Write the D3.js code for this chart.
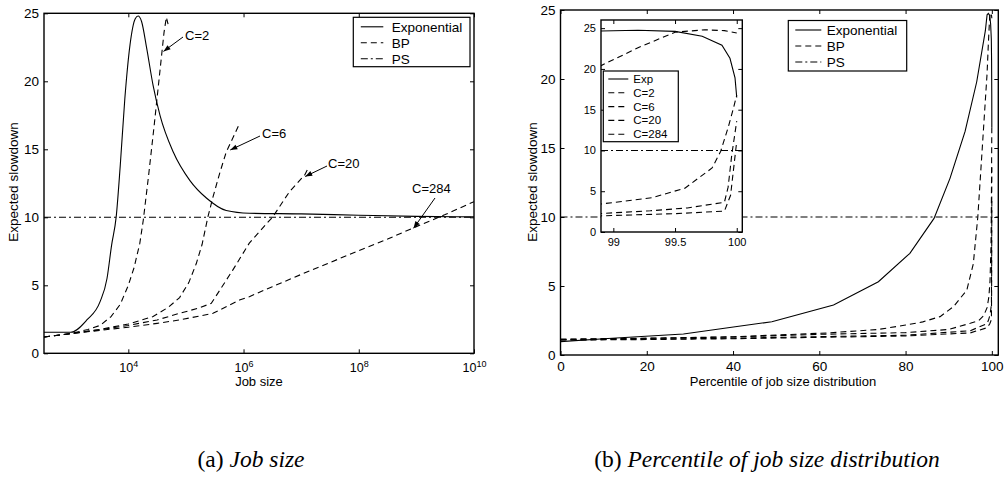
<!DOCTYPE html>
<html><head><meta charset="utf-8">
<script src="https://cdn.jsdelivr.net/npm/d3@7"></script>
<style>
body{margin:0;background:#fff}
text{font-family:"Liberation Sans",Arial,Helvetica,sans-serif;fill:#000}
</style>
</head><body>
<svg id="chart" width="1005" height="479"></svg>
<script>
// ---------------- DATA ----------------
// (a) Expected slowdown vs job size (job size, slowdown)
const jobExp = [[344,1.55],[1000,1.55],[1905,2.45],[3236,3.8],[4266,5.5],[5129,7.96],[6166,10.05],[7244,13.8],[8710,18.75],[10715,22.7],[13183,24.6],[14791,24.8],[16982,24.4],[20893,22.4],[26915,19.7],[35481,17.5],[60256,14.8],[117490,12.7],[229087,11.4],[501187,10.5],[1258925,10.3],[1e7,10.25],[1e8,10.15],[1e9,10.07],[1e10,10.03]];
const jobC2 = [[344,1.2],[1000,1.45],[1995,1.75],[3236,2.05],[5012,2.7],[7244,3.6],[10000,5.0],[12589,6.3],[15849,8.1],[18197,9.8],[22387,13.0],[28184,16.8],[35481,20.8],[41687,23.6],[45709,24.7],[48978,24.2]];
const jobC6 = [[344,1.2],[1000,1.45],[3162,1.75],[10000,2.15],[26915,2.7],[50119,3.4],[77625,4.1],[112202,5.2],[151356,6.6],[190546,8.0],[239883,10.0],[295121,11.5],[389045,13.3],[501187,14.8],[630957,15.7],[831764,16.8]];
const jobC20 = [[344,1.2],[1000,1.45],[3162,1.72],[10000,2.05],[31623,2.45],[77625,2.94],[158489,3.3],[275423,3.67],[645654,6.1],[1258925,8.1],[3235937,10.05],[6309573,11.9],[11481536,13.1],[13182567,13.6]];
const jobC284 = [[344,1.2],[1000,1.45],[3162,1.68],[10000,1.92],[31623,2.2],[77625,2.45],[295121,2.94],[851138,3.92],[1258925,4.16],[3162278,4.9],[1e7,5.8],[26915348,6.55],[1e8,7.55],[316227766,8.4],[851138038,9.19],[3162277660,10.2],[1e10,11.15]];
const psSlowdown = 10;

// (b) Expected slowdown vs percentile of job size distribution
const pctExp = [[0,0.97],[11,1.2],[28.5,1.52],[40.5,2.05],[49,2.41],[63.3,3.62],[73.7,5.31],[81,7.37],[86.6,9.9],[90.3,12.8],[93.8,16.2],[96.5,19.8],[98.5,23.5],[98.9,24.65],[99.2,24.75],[99.5,24.6],[99.72,24.0],[99.88,22.9],[99.945,21.3],[99.986,18.9],[100,16.5]];
const pctC2 = [[0,1.15],[20,1.22],[40,1.32],[62,1.6],[73.7,1.85],[80,2.17],[84,2.4],[88,2.78],[91.1,3.5],[94.2,4.7],[95.7,6.6],[96.75,10],[97.7,14.6],[98.9,20.4],[99.2,22.6],[99.5,24.5],[99.74,24.8],[99.9,24.7],[100,24.4]];
const pctC6 = [[0,1.12],[20,1.2],[40,1.3],[60,1.5],[80,1.62],[90,1.85],[95,2.3],[97,2.5],[98.1,2.85],[98.9,3.43],[99.31,4.2],[99.58,5.37],[99.8,7.85],[99.87,9.9],[99.93,12.8],[99.97,15.0],[100,16.8]];
const pctC20 = [[0,1.1],[20,1.15],[40,1.22],[60,1.33],[80,1.43],[95,1.76],[98.9,2.27],[99.3,2.6],[99.6,2.95],[99.9,3.64],[99.93,5.5],[99.96,9.5],[100,13.6]];
const pctC284 = [[0,1.08],[20,1.12],[40,1.18],[60,1.28],[80,1.38],[95,1.6],[98.9,1.98],[99.5,2.25],[99.9,2.56],[99.95,4.5],[100,11.15]];

// ticks & labels
const jobTicks = [1e4,1e6,1e8,1e10];
const slowTicks = [0,5,10,15,20,25];
const pctTicks = [0,20,40,60,80,100];
const insetXTicks = [99,99.5,100];
const mainLegend = ["Exponential","BP","PS"];
const insetLegend = ["Exp","C=2","C=6","C=20","C=284"];
const annLabels = ["C=2","C=6","C=20","C=284"];
const annTips = [[40738,22.2],[588844,14.95],[11748976,13.0],[891250938,9.19]];

// ---------------- STYLE ----------------
const DASH = "6,4", DASHDOT = "7,3,2,3";
const svg = d3.select("#chart");

// scales
const xL = d3.scaleLog().domain([344,1e10]).range([44,474]);
const yL = d3.scaleLinear().domain([0,25]).range([353.3,13.3]);
const xR = d3.scaleLinear().domain([0,101.5]).range([560.5,998.3]);
const yR = d3.scaleLinear().domain([0,25]).range([355,10]);
const xI = d3.scaleLinear().domain([98.9,100.045]).range([601,742.3]);
const yI = d3.scaleLinear().domain([0,26]).range([232,20]);

function clip(id, xs, ys){
  const [x0,x1]=xs.range(), [y0,y1]=ys.range();
  svg.append("clipPath").attr("id",id).append("rect")
    .attr("x",x0).attr("y",y1).attr("width",x1-x0).attr("height",y0-y1);
}
clip("cl",xL,yL); clip("cr",xR,yR); clip("ci",xI,yI);

function axes(xs, ys, xTicks, yTicks, fs, xFmt, tick, xPad){
  const [x0,x1]=xs.range(), [y0,y1]=ys.range();
  const g = svg.append("g");
  const b = g.append("g").attr("transform",`translate(0,${y0})`)
    .call(d3.axisBottom(xs).tickValues(xTicks).tickSize(-tick).tickPadding(xPad).tickFormat(xFmt));
  g.append("g").attr("transform",`translate(0,${y1})`)
    .call(d3.axisTop(xs).tickValues(xTicks).tickSize(-tick).tickFormat(""));
  g.append("g").attr("transform",`translate(${x0},0)`)
    .call(d3.axisLeft(ys).tickValues(yTicks).tickSize(-tick).tickPadding(5).tickFormat(d3.format("d")));
  g.append("g").attr("transform",`translate(${x1},0)`)
    .call(d3.axisRight(ys).tickValues(yTicks).tickSize(-tick).tickFormat(""));
  g.selectAll(".domain").remove();
  g.selectAll(".tick line").attr("stroke","#000").attr("stroke-width",1);
  g.selectAll("text").attr("font-size",fs).attr("font-family",null).attr("fill","#000");
  g.append("rect").attr("x",x0).attr("y",y1).attr("width",x1-x0).attr("height",y0-y1)
    .attr("fill","none").attr("stroke","#000").attr("stroke-width",1.4);
  return b;
}

function line(data, xs, ys, dash, clipId, curve){
  svg.append("path").datum(data)
    .attr("clip-path",`url(#${clipId})`)
    .attr("fill","none").attr("stroke","#000").attr("stroke-width",1.1)
    .attr("stroke-dasharray",dash)
    .attr("d",d3.line().x(d=>xs(d[0])).y(d=>ys(d[1])).curve(curve||d3.curveLinear));
}

function legend(x,y,w,h,labels,dashes,rowH,first,lx0,lx1,tx,fs){
  const g=svg.append("g");
  g.append("rect").attr("x",x).attr("y",y).attr("width",w).attr("height",h)
    .attr("fill","#fff").attr("stroke","#000").attr("stroke-width",1.2);
  labels.forEach((l,i)=>{
    const cy=y+first+i*rowH;
    g.append("line").attr("x1",x+lx0).attr("x2",x+lx1).attr("y1",cy).attr("y2",cy)
      .attr("stroke","#000").attr("stroke-width",1.1).attr("stroke-dasharray",dashes[i]);
    g.append("text").attr("x",x+tx).attr("y",cy).attr("dy","0.35em").attr("font-size",fs).text(l);
  });
}

// ---------------- PANEL (a) ----------------
line(jobExp,xL,yL,null,"cl",d3.curveMonotoneX);
[jobC2,jobC6,jobC20,jobC284].forEach(s=>line(s,xL,yL,DASH,"cl"));
line(xL.domain().map(x=>[x,psSlowdown]),xL,yL,DASHDOT,"cl");

const bL = axes(xL,yL,jobTicks,slowTicks,13.5,d=>"",4,9);
bL.selectAll(".tick text").each(function(d){
  const t=d3.select(this);
  t.append("tspan").attr("font-size",12.5).text("10");
  t.append("tspan").attr("font-size",9).attr("dy","-0.55em").text(Math.round(Math.log10(d)));
});

// annotations
const annText = [[185,35],[262,133],[328,163],[412,188]];
const annFrom = [[183,37],[260,136],[327,166],[435,198]];
annLabels.forEach((lab,i)=>{
  const tip=[xL(annTips[i][0]),yL(annTips[i][1])];
  const from=annFrom[i];
  svg.append("line").attr("x1",from[0]).attr("y1",from[1]).attr("x2",tip[0]).attr("y2",tip[1])
    .attr("stroke","#000").attr("stroke-width",1);
  const ang=Math.atan2(tip[1]-from[1],tip[0]-from[0]);
  const L=7,W=2.6;
  const bx=tip[0]-L*Math.cos(ang), by=tip[1]-L*Math.sin(ang);
  const p=[[tip[0],tip[1]],[bx+W*Math.sin(ang),by-W*Math.cos(ang)],[bx-W*Math.sin(ang),by+W*Math.cos(ang)]];
  svg.append("path").attr("d","M"+p.map(q=>q.join(",")).join("L")+"Z").attr("fill","#000");
  svg.append("text").attr("x",annText[i][0]).attr("y",annText[i][1]).attr("dy","0.35em")
    .attr("font-size",13).text(lab);
});

legend(353.3,17.3,116.7,49.4,mainLegend,[null,DASH,DASHDOT],16,9.5,7.5,30,38.5,13.5);

svg.append("text").attr("x",259).attr("y",381).attr("dy","0.35em").attr("text-anchor","middle")
  .attr("font-size",13).text("Job size");
svg.append("text").attr("transform","translate(13,182) rotate(-90)").attr("dy","0.35em")
  .attr("text-anchor","middle").attr("font-size",13.5).text("Expected slowdown");

// ---------------- PANEL (b) ----------------
const pctSeries=[pctExp,pctC2,pctC6,pctC20,pctC284];
const pctDash=[null,DASH,DASH,DASH,DASH];
pctSeries.forEach((s,i)=>line(s,xR,yR,pctDash[i],"cr"));
line(xR.domain().map(x=>[x,psSlowdown]),xR,yR,DASHDOT,"cr");
axes(xR,yR,pctTicks,slowTicks,13.5,d3.format("d"),4,6);

legend(788.3,20.5,118.4,50.5,mainLegend,[null,DASH,DASHDOT],16,9.5,7,33,38.5,13.5);

svg.append("text").attr("x",783).attr("y",381).attr("dy","0.35em").attr("text-anchor","middle")
  .attr("font-size",13).text("Percentile of job size distribution");
svg.append("text").attr("transform","translate(532,182) rotate(-90)").attr("dy","0.35em")
  .attr("text-anchor","middle").attr("font-size",13.5).text("Expected slowdown");

// inset
svg.append("rect").attr("x",xI.range()[0]).attr("y",yI.range()[1])
  .attr("width",xI.range()[1]-xI.range()[0]).attr("height",yI.range()[0]-yI.range()[1]).attr("fill","#fff");
pctSeries.forEach((s,i)=>line(s,xI,yI,pctDash[i],"ci"));
line(xI.domain().map(x=>[x,psSlowdown]),xI,yI,DASHDOT,"ci");
axes(xI,yI,insetXTicks,slowTicks,11,d3.format("~g"),4,6);

legend(603.3,71,75,70.7,insetLegend,[null,DASH,DASH,DASH,DASH],13.8,8,5,25,30,11.5);

// captions
function caption(x,pre,it){
  const t=svg.append("text").attr("x",x).attr("y",467).attr("text-anchor","middle")
    .attr("font-size",23.5).style("font-family","'Liberation Serif','Times New Roman',serif");
  t.append("tspan").text(pre);
  t.append("tspan").attr("font-style","italic").text(it);
}
caption(251,"(a) ","Job size");
caption(767,"(b) ","Percentile of job size distribution");
</script>
</body></html>
